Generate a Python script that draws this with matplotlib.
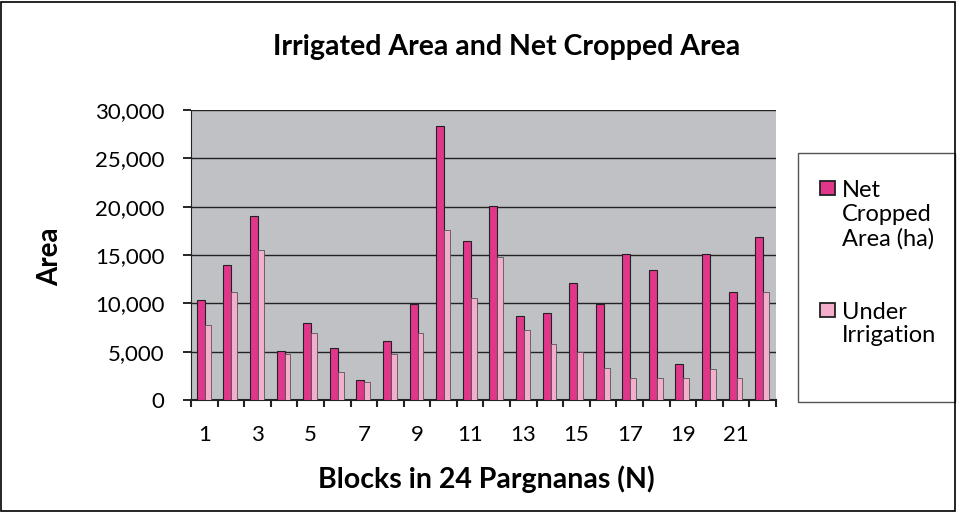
import matplotlib
matplotlib.use("Agg")
import matplotlib.pyplot as plt
import matplotlib.ticker as mticker
from matplotlib.patches import Rectangle
import numpy as np

plt.rcParams["font.family"] = ["Lato", "DejaVu Sans"]

# ── 数据 ─────────────────────────────────────────────
blocks = list(range(1, 23))
net_cropped = [10300, 14000, 19000, 5100, 8000, 5400, 2100, 6100, 9900, 28300, 16500,
               20100, 8700, 9000, 12100, 9900, 15100, 13500, 3700, 15100, 11200, 16900]
under_irrigation = [7800, 11200, 15500, 4800, 6900, 2900, 1900, 4800, 6900, 17600, 10600,
                    14800, 7200, 5800, 5000, 3300, 2300, 2300, 2300, 3200, 2300, 11200]
tick_labels = ["1", "3", "5", "7", "9", "11", "13", "15", "17", "19", "21"]

NET_COLOR = "#E0378A"
IRR_COLOR = "#F4AECB"

fig = plt.figure(figsize=(9.57, 5.12), dpi=100)
ax = fig.add_axes([191 / 957, 112 / 512, 585 / 957, 290 / 512])
ax.set_facecolor("#C0C1C5")

x = np.arange(len(blocks))
ax.bar(x - 0.13, net_cropped, width=0.3, color=NET_COLOR, edgecolor="#222222", linewidth=0.8, zorder=3)
ax.bar(x + 0.13, under_irrigation, width=0.22, color=IRR_COLOR, edgecolor="#555555", linewidth=0.6, zorder=3)

ax.set_xlim(-0.5, len(blocks) - 0.5)
ax.set_ylim(0, 30000)
ax.yaxis.set_major_locator(mticker.MultipleLocator(5000))
ax.yaxis.set_major_formatter(mticker.FuncFormatter(lambda v, p: f"{int(v):,}"))
ax.grid(True, axis="y", color="#222222", linewidth=1.0, zorder=1)

# 类别标签在中间，刻度在类别之间
ax.set_xticks(x[::2])
ax.set_xticklabels(tick_labels)
ax.set_xticks(np.arange(-0.5, len(blocks), 1), minor=True)
ax.tick_params(axis="x", which="major", length=0, labelsize=16, pad=18)
ax.tick_params(axis="x", which="minor", length=5, width=1.5, color="#222222")
ax.tick_params(axis="y", length=6, width=1.2, labelsize=16, pad=13)

for side in ["top", "right"]:
    ax.spines[side].set_visible(False)
ax.spines["left"].set_color("#222222")
ax.spines["bottom"].set_color("#222222")
ax.spines["bottom"].set_linewidth(1.5)

fig.text(507 / 957, 1 - 47 / 512, "Irrigated Area and Net Cropped Area",
         ha="center", va="center", fontsize=20.5, fontweight="bold")
fig.text(486 / 957, 1 - 479 / 512, "Blocks in 24 Pargnanas (N)",
         ha="center", va="center", fontsize=20.5, fontweight="bold")
fig.text(50 / 957, 1 - 257 / 512, "Area", rotation=90,
         ha="center", va="center", fontsize=20, fontweight="bold")

# ── 图例（手工绘制） ──────────────────────────────────
fig.add_artist(Rectangle((798 / 957, 1 - 402 / 512), 157 / 957, 249 / 512,
                         transform=fig.transFigure, facecolor="white",
                         edgecolor="#555555", linewidth=1.0))
legend_items = [("Net\nCropped\nArea (ha)", NET_COLOR, 188, 215),
                ("Under\nIrrigation", IRR_COLOR, 310, 324)]
for label, color, ypatch, ytext in legend_items:
    fig.add_artist(Rectangle((820 / 957, 1 - (ypatch + 7) / 512), 15 / 957, 14 / 512,
                             transform=fig.transFigure, facecolor=color,
                             edgecolor="#222222", linewidth=1.3))
    fig.text(842 / 957, 1 - ytext / 512, label, ha="left", va="center",
             fontsize=17, linespacing=1.17)

# 外框
fig.add_artist(Rectangle((1 / 957, 1 / 512), 954 / 957, 509 / 512,
                         transform=fig.transFigure, facecolor="none",
                         edgecolor="black", linewidth=1.2))

fig.savefig("out.png", dpi=100)
